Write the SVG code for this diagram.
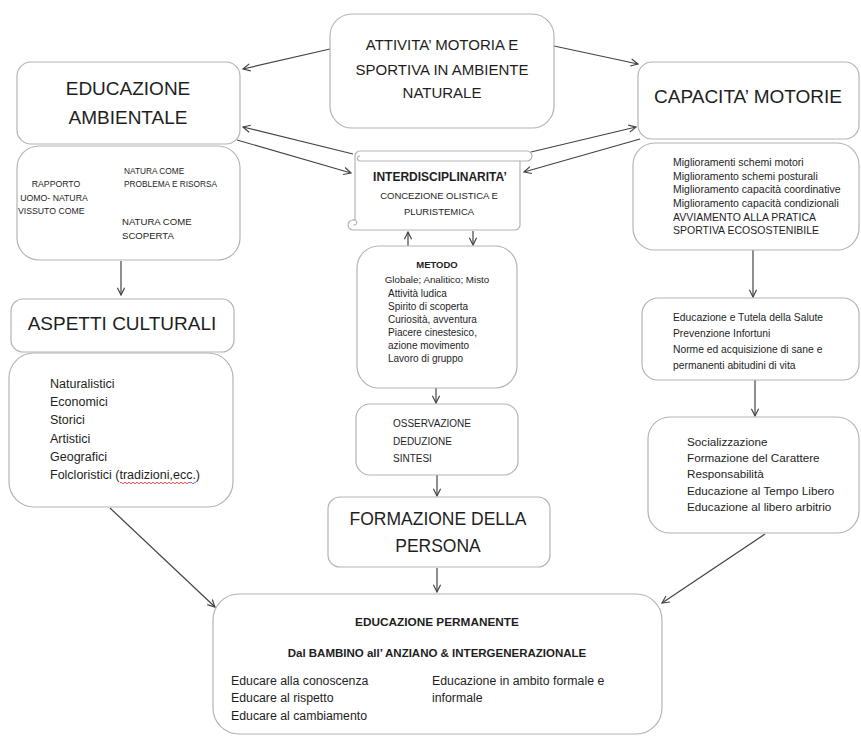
<svg xmlns="http://www.w3.org/2000/svg" width="861" height="736" viewBox="0 0 861 736">
<defs>
<style>
.box{fill:#fff;stroke:#b4b4b4;stroke-width:1.2}
.c{stroke:#444;stroke-width:1.2;fill:none;marker-end:url(#arr)}
text{font-family:"Liberation Sans",Arial,sans-serif;fill:#1e1e1e}
.m{text-anchor:middle}
.b{font-weight:bold}
</style>
<marker id="arr" viewBox="0 0 10 10" refX="9" refY="5" markerWidth="9" markerHeight="9" markerUnits="userSpaceOnUse" orient="auto">
<path d="M1,1 L9,5 L1,9" fill="none" stroke="#444" stroke-width="1.3"/>
</marker>
</defs>
<rect width="861" height="736" fill="#fff"/>

<g id="connectors">
<line class="c" x1="330" y1="49" x2="243" y2="69"/>
<line class="c" x1="554" y1="46" x2="638" y2="64"/>
<line class="c" x1="353" y1="154" x2="243" y2="127"/>
<line class="c" x1="237" y1="140" x2="351" y2="173"/>
<line class="c" x1="531" y1="152" x2="636" y2="127"/>
<line class="c" x1="640" y1="139" x2="524" y2="172"/>
<line class="c" x1="408" y1="246" x2="408" y2="232"/>
<line class="c" x1="473" y1="231" x2="473" y2="245"/>
<line class="c" x1="436" y1="388" x2="436" y2="403"/>
<line class="c" x1="437" y1="475" x2="437" y2="496"/>
<line class="c" x1="437" y1="568" x2="437" y2="592"/>
<line class="c" x1="121" y1="261" x2="121" y2="295"/>
<line class="c" x1="110" y1="508" x2="215" y2="607"/>
<line class="c" x1="753" y1="250" x2="753" y2="297"/>
<line class="c" x1="755" y1="380" x2="755" y2="416"/>
<line class="c" x1="765" y1="534" x2="662" y2="603"/>
<line class="c" x1="97" y1="188" x2="116" y2="177"/>
<line class="c" x1="90" y1="212" x2="117" y2="223"/>
</g>

<g id="attivita">
<rect class="box" x="330" y="14" width="224" height="114" rx="22"/>
<text class="m" x="442" y="50" font-size="15">ATTIVITA’ MOTORIA E</text>
<text class="m" x="442" y="75" font-size="15">SPORTIVA IN AMBIENTE</text>
<text class="m" x="442" y="98" font-size="15">NATURALE</text>
</g>

<g id="educazione-ambientale">
<rect class="box" x="17" y="62" width="223" height="82" rx="14"/>
<text class="m" x="128" y="95" font-size="19">EDUCAZIONE</text>
<text class="m" x="128" y="124" font-size="19">AMBIENTALE</text>
</g>

<g id="capacita-motorie">
<rect class="box" x="638" y="62" width="221" height="77" rx="14"/>
<text class="m" x="748" y="103" font-size="19">CAPACITA’ MOTORIE</text>
</g>

<g id="rapporto">
<rect class="box" x="17" y="146" width="223" height="114" rx="22"/>
<text class="m" x="56" y="187" font-size="8.7">RAPPORTO</text>
<text class="m" x="54" y="201" font-size="8.7">UOMO- NATURA</text>
<text x="18" y="214" font-size="8.7">VISSUTO COME</text>
<text x="124" y="174" font-size="8.3">NATURA COME</text>
<text x="124" y="187" font-size="8.3">PROBLEMA E RISORSA</text>
<text x="122" y="225" font-size="9.6">NATURA COME</text>
<text x="122" y="239" font-size="9.6">SCOPERTA</text>
</g>

<g id="interdisciplinarita">
<path class="box" d="M355 156 A5 5 0 0 1 360 151 H527 A5 5 0 0 1 527 161 H520 V225 A5 5 0 0 1 515 230 H353 A5 5 0 0 1 353 220 H355 Z"/>
<path d="M360 161 H520 M360 161 A2.5 2.5 0 0 1 360 156 M355 225 A2.5 2.5 0 0 0 353 220 M353 225 H355" fill="none" stroke="#b4b4b4" stroke-width="1.1"/>
<text class="m b" x="440" y="181" font-size="12">INTERDISCIPLINARITA’</text>
<text class="m" x="439" y="199" font-size="9.5">CONCEZIONE OLISTICA E</text>
<text class="m" x="439" y="215" font-size="9.5">PLURISTEMICA</text>
</g>

<g id="capacita-list">
<rect class="box" x="633" y="143" width="226" height="107" rx="22"/>
<text x="673" y="166" font-size="10.5">Miglioramenti schemi motori</text>
<text x="673" y="180" font-size="10.5">Miglioramento schemi posturali</text>
<text x="673" y="193" font-size="10.5">Miglioramento capacità coordinative</text>
<text x="673" y="207" font-size="10.5">Miglioramento capacità condizionali</text>
<text x="673" y="221" font-size="10.5">AVVIAMENTO ALLA PRATICA</text>
<text x="673" y="234" font-size="10.5">SPORTIVA ECOSOSTENIBILE</text>
</g>

<g id="aspetti-culturali">
<rect class="box" x="11" y="299" width="223" height="53" rx="12"/>
<text class="m" x="122" y="330" font-size="19">ASPETTI CULTURALI</text>
</g>

<g id="aspetti-list">
<rect class="box" x="9" y="353" width="224" height="154" rx="25"/>
<text x="50" y="388" font-size="12.5">Naturalistici</text>
<text x="50" y="406" font-size="12.5">Economici</text>
<text x="50" y="424" font-size="12.5">Storici</text>
<text x="50" y="443" font-size="12.5">Artistici</text>
<text x="50" y="461" font-size="12.5">Geografici</text>
<text x="50" y="479" font-size="12.5">Folcloristici (tradizioni,ecc.)</text>
<path d="M120 483 q1 -1.5 2 0 t2 0 t2 0 t2 0 t2 0 t2 0 t2 0 t2 0 t2 0 t2 0 t2 0 t2 0 t2 0 t2 0 t2 0 t2 0 t2 0 t2 0 t2 0 t2 0 t2 0 t2 0 t2 0 t2 0 t2 0 t2 0 t2 0 t2 0 t2 0 t2 0 t2 0 t2 0 t2 0 t2 0 t2 0" fill="none" stroke="#e03a3a" stroke-width="0.9"/>
<path d="M190 483 q1 -1.5 2 0 t2 0 t2 0" fill="none" stroke="#4a6ee0" stroke-width="0.9"/>
</g>

<g id="metodo">
<rect class="box" x="357" y="246" width="160" height="142" rx="22"/>
<text class="m b" x="437" y="268" font-size="9.5">METODO</text>
<text class="m" x="437" y="283" font-size="9.8">Globale; Analitico; Misto</text>
<text x="388" y="297" font-size="10">Attività ludica</text>
<text x="388" y="310" font-size="10">Spirito di scoperta</text>
<text x="388" y="323" font-size="10">Curiosità, avventura</text>
<text x="388" y="336" font-size="10">Piacere cinestesico,</text>
<text x="388" y="349" font-size="10">azione movimento</text>
<text x="388" y="362" font-size="10">Lavoro di gruppo</text>
</g>

<g id="osservazione">
<rect class="box" x="356" y="404" width="162" height="71" rx="14"/>
<text x="393" y="427" font-size="10">OSSERVAZIONE</text>
<text x="393" y="445" font-size="10">DEDUZIONE</text>
<text x="393" y="462" font-size="10">SINTESI</text>
</g>

<g id="formazione">
<rect class="box" x="328" y="497" width="222" height="70" rx="12"/>
<text class="m" x="438" y="525" font-size="17.5">FORMAZIONE DELLA</text>
<text class="m" x="438" y="552" font-size="17.5">PERSONA</text>
</g>

<g id="salute">
<rect class="box" x="642" y="298" width="217" height="82" rx="16"/>
<text x="673" y="321" font-size="10.3">Educazione e Tutela della Salute</text>
<text x="673" y="337" font-size="10.3">Prevenzione Infortuni</text>
<text x="673" y="353" font-size="10.3">Norme ed acquisizione di sane e</text>
<text x="673" y="369" font-size="10.3">permanenti abitudini di vita</text>
</g>

<g id="socializzazione">
<rect class="box" x="648" y="417" width="211" height="116" rx="22"/>
<text x="687" y="446" font-size="11.7">Socializzazione</text>
<text x="687" y="462" font-size="11.7">Formazione del Carattere</text>
<text x="687" y="478" font-size="11.7">Responsabilità</text>
<text x="687" y="495" font-size="11.7">Educazione al Tempo Libero</text>
<text x="687" y="511" font-size="11.7">Educazione al libero arbitrio</text>
</g>

<g id="educazione-permanente">
<rect class="box" x="213" y="594" width="449" height="140" rx="26"/>
<text class="m b" x="437" y="626" font-size="11.8">EDUCAZIONE PERMANENTE</text>
<text class="m b" x="437" y="657" font-size="11.5">Dal BAMBINO all’ ANZIANO &amp; INTERGENERAZIONALE</text>
<text x="231" y="685" font-size="12.3">Educare alla conoscenza</text>
<text x="231" y="702" font-size="12.3">Educare al rispetto</text>
<text x="231" y="720" font-size="12.3">Educare al cambiamento</text>
<text x="432" y="685" font-size="12.3">Educazione in ambito formale e</text>
<text x="432" y="702" font-size="12.3">informale</text>
</g>
</svg>
